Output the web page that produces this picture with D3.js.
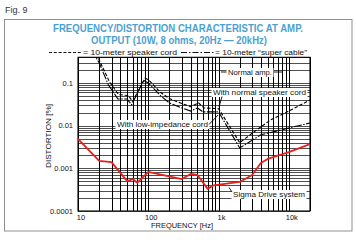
<!DOCTYPE html>
<html>
<head>
<meta charset="utf-8">
<script src="https://cdn.jsdelivr.net/npm/d3@7/dist/d3.min.js"></script>
<style>
  html, body { margin: 0; padding: 0; background: #fff; }
  #chart { width: 356px; height: 240px; overflow: hidden; }
</style>
</head>
<body>
<div id="chart"></div>
<script>
// ---- data ----
const xTicks = [10, 100, 1000, 10000];
const xTickLabels = ["10", "100", "1k", "10k"];
const yTicks = [0.0001, 0.001, 0.01, 0.1];
const yTickLabels = ["0.0001", "0.001", "0.01", "0.1"];

// with normal speaker cord (dashed)
const normalCordFreq = [16, 20, 28, 38, 52, 60, 90, 100, 150, 200, 300, 400, 520, 620, 1000, 2000, 3500, 5500, 10000, 20000];
const normalCordDist = [0.6, 0.35, 0.107, 0.053, 0.051, 0.037, 0.13, 0.12, 0.06, 0.043, 0.033, 0.028, 0.034, 0.026, 0.025, 0.004, 0.008, 0.0136, 0.022, 0.04];

// with low-impedance cord ("super cable", dash-dot)
const lowImpFreq = [15.5, 20, 27, 37, 50, 58, 86, 100, 150, 200, 300, 400, 500, 600, 1000, 2000, 4000, 7700, 20000];
const lowImpDist = [0.6, 0.3, 0.091, 0.042, 0.042, 0.031, 0.115, 0.1, 0.05, 0.034, 0.026, 0.022, 0.026, 0.021, 0.021, 0.003, 0.0061, 0.0079, 0.0116];

// Sigma Drive system (red)
const sigmaFreq = [10, 20, 30, 50, 60, 70, 100, 300, 400, 500, 700, 850, 2000, 3000, 4000, 5000, 10000, 20000];
const sigmaDist = [0.0049, 0.0015, 0.0014, 0.0005, 0.00056, 0.00046, 0.00083, 0.00056, 0.00074, 0.0007, 0.00033, 0.0004, 0.00048, 0.0007, 0.00134, 0.00166, 0.0024, 0.0037];

const titleLines = ["FREQUENCY/DISTORTION CHARACTERISTIC AT AMP.", "OUTPUT (10W, 8 ohms, 20Hz \u2014 20kHz)"];

// ---- layout ----
const W = 356, H = 240;
const plot = { left: 78, right: 310, top: 57.3, bottom: 211 };
const blue = "#4d9fd2";
const red = "#e8201c";
const font = "'Liberation Sans', Arial, sans-serif";
const narrow = "'Liberation Sans Narrow', 'Liberation Sans', Arial, sans-serif";

const svg = d3.select("#chart").append("svg")
    .attr("width", W)
    .attr("height", H)
    .attr("font-family", font);

svg.append("rect").attr("width", W).attr("height", H).attr("fill", "#fff");

const x = d3.scaleLog().domain([10, 20000]).range([plot.left, plot.right]);
const y = d3.scaleLog().domain([0.0001, 0.4]).range([plot.bottom, plot.top]);

// figure labels
svg.append("text").attr("x", 5).attr("y", 13)
    .attr("font-size", 9).attr("fill", "#333").text("Fig. 9");
svg.append("text").attr("x", 5).attr("y", 246.5)
    .attr("font-size", 9).attr("fill", "#333").text("Fig. 10");

// outer frame
svg.append("rect")
    .attr("x", 4.5).attr("y", 19.5)
    .attr("width", 347.5).attr("height", 211.5)
    .attr("fill", "none").attr("stroke", "#777").attr("stroke-width", 0.8);

// title
svg.append("text").attr("x", 178).attr("y", 31.5)
    .attr("text-anchor", "middle").attr("font-family", narrow)
    .attr("font-weight", "bold").attr("font-size", 10.5).attr("fill", blue)
    .attr("textLength", 250).attr("lengthAdjust", "spacingAndGlyphs")
    .text(titleLines[0]);
svg.append("text").attr("x", 179).attr("y", 43.5)
    .attr("text-anchor", "middle").attr("font-family", narrow)
    .attr("font-weight", "bold").attr("font-size", 10.5).attr("fill", blue)
    .attr("textLength", 176).attr("lengthAdjust", "spacingAndGlyphs")
    .text(titleLines[1]);

// legend line
const lg = svg.append("g").attr("font-size", 7).attr("fill", "#111");
lg.append("line").attr("x1", 49).attr("x2", 82).attr("y1", 52.5).attr("y2", 52.5)
    .attr("stroke", "#111").attr("stroke-width", 1).attr("stroke-dasharray", "3,1.8");
lg.append("text").attr("x", 83).attr("y", 55)
    .attr("textLength", 94).attr("lengthAdjust", "spacingAndGlyphs")
    .text("= 10-meter speaker cord");
lg.append("line").attr("x1", 181).attr("x2", 215).attr("y1", 52.5).attr("y2", 52.5)
    .attr("stroke", "#111").attr("stroke-width", 1).attr("stroke-dasharray", "6,2,1.5,2");
lg.append("text").attr("x", 215).attr("y", 55)
    .attr("textLength", 92).attr("lengthAdjust", "spacingAndGlyphs")
    .text("= 10-meter \u201csuper cable\u201d");

// grid
const grid = svg.append("g");
const vLines = [];
for (let d = 10; d <= 10000; d *= 10)
    for (let m = 1; m <= 9; m++) if (d * m <= 20000) vLines.push(d * m);
vLines.push(20000);
const hLines = [];
for (let d = 0.0001; d < 0.4; d *= 10)
    for (let m = 1; m <= 9; m++) if (d * m <= 0.4 + 1e-9) hLines.push(d * m);

grid.selectAll("line.h").data(hLines).enter().append("line")
    .attr("class", "h")
    .attr("x1", plot.left).attr("x2", plot.right)
    .attr("y1", d => Math.round(y(d)) + 0.5).attr("y2", d => Math.round(y(d)) + 0.5)
    .attr("stroke", "#222").attr("stroke-width", 0.8);
grid.selectAll("line.v").data(vLines).enter().append("line")
    .attr("class", "v")
    .attr("y1", plot.top).attr("y2", plot.bottom)
    .attr("x1", d => Math.round(x(d)) + 0.5).attr("x2", d => Math.round(x(d)) + 0.5)
    .attr("stroke", "#000").attr("stroke-width", 1);
grid.append("rect")
    .attr("x", plot.left).attr("y", plot.top)
    .attr("width", plot.right - plot.left).attr("height", plot.bottom - plot.top)
    .attr("fill", "none").attr("stroke", "#000").attr("stroke-width", 1.1);

// axis labels
const ax = svg.append("g").attr("font-size", 7.5).attr("fill", "#111");
ax.selectAll("text.yt").data(yTicks).enter().append("text")
    .attr("class", "yt")
    .attr("x", 73).attr("y", d => y(d) + 2.7)
    .attr("text-anchor", "end")
    .text((d, i) => yTickLabels[i]);
ax.selectAll("text.xt").data(xTicks).enter().append("text")
    .attr("class", "xt")
    .attr("x", d => x(d) + 3).attr("y", 220)
    .attr("text-anchor", "middle")
    .text((d, i) => xTickLabels[i]);
ax.append("text").attr("x", 182).attr("y", 227.5)
    .attr("text-anchor", "middle").attr("font-size", 8)
    .attr("textLength", 62).attr("lengthAdjust", "spacingAndGlyphs")
    .text("FREQUENCY [Hz]");
ax.append("text")
    .attr("transform", "translate(50.5,136) rotate(-90)")
    .attr("text-anchor", "middle").attr("font-size", 8)
    .attr("textLength", 64).attr("lengthAdjust", "spacingAndGlyphs")
    .text("DISTORTION [%]");

// curves
const line = d3.line()
    .x(d => x(d[0]))
    .y(d => y(d[1]));
svg.append("clipPath").attr("id", "plotclip").append("rect")
    .attr("x", plot.left).attr("y", plot.top)
    .attr("width", plot.right - plot.left).attr("height", plot.bottom - plot.top);
const curves = svg.append("g").attr("clip-path", "url(#plotclip)").attr("fill", "none");

curves.append("path")
    .attr("d", line(d3.zip(lowImpFreq, lowImpDist)))
    .attr("stroke", "#000").attr("stroke-width", 1.1)
    .attr("stroke-dasharray", "8,1.5,1.5,1.5");
curves.append("path")
    .attr("d", line(d3.zip(normalCordFreq, normalCordDist)))
    .attr("stroke", "#000").attr("stroke-width", 1.1)
    .attr("stroke-dasharray", "3.5,1.8");
curves.append("path")
    .attr("d", line(d3.zip(sigmaFreq, sigmaDist)))
    .attr("stroke", red).attr("stroke-width", 1.8)
    .attr("stroke-linejoin", "round");

// annotations (pixel placed text boxes with leader lines)
const notes = svg.append("g").attr("font-size", 7.8).attr("fill", "#111");

function label(txt, px, py, len) {
    notes.append("rect")
        .attr("x", px - 1.5).attr("y", py - 7)
        .attr("width", len + 3).attr("height", 9)
        .attr("fill", "#fff");
    notes.append("text").attr("x", px).attr("y", py)
        .attr("textLength", len).attr("lengthAdjust", "spacingAndGlyphs")
        .text(txt);
}
function pointer(x1, y1, x2, y2) {
    notes.append("line")
        .attr("x1", x1).attr("y1", y1)
        .attr("x2", x2).attr("y2", y2)
        .attr("stroke", "#000").attr("stroke-width", 0.9);
}

label("Normal amp.", 228, 75, 44);
pointer(221, 72, 226.5, 72);
pointer(274, 72, 282, 72);

label("With normal speaker cord", 213, 95, 93);
pointer(222, 96.5, 219, 107);

label("With low-impedance cord", 117, 127, 91);
pointer(209, 124.5, 218, 115);

label("Sigma Drive system", 233, 197, 72);
pointer(232, 192, 229, 187.5);
</script>
</body>
</html>
